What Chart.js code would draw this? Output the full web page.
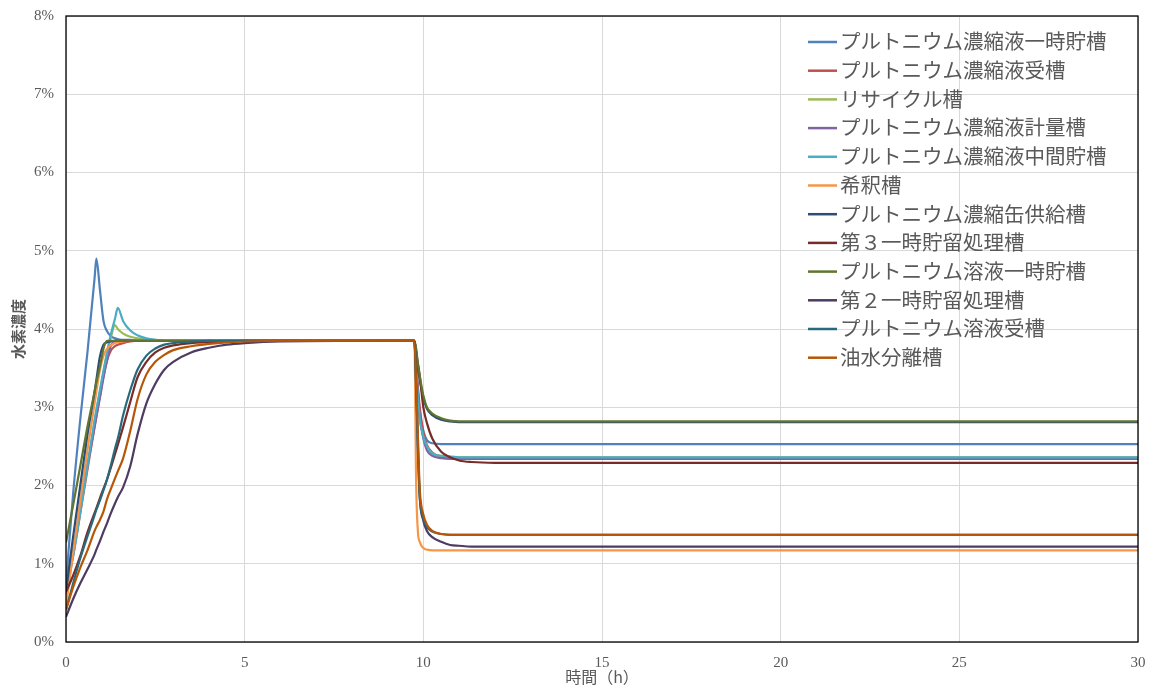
<!DOCTYPE html>
<html lang="ja">
<head>
<meta charset="utf-8">
<title>水素濃度</title>
<script src="https://cdn.jsdelivr.net/npm/chart.js@4.4.1/dist/chart.umd.min.js"></script>
<style>
    html, body { margin: 0; padding: 0; background: #ffffff; }
    #wrap { width: 1157px; height: 693px; }
</style>
</head>
<body>
<div id="wrap"><canvas id="myChart" width="1157" height="693"></canvas></div>
<script>
// time (h)
const times = [0, 0.2, 0.4, 0.6, 0.8, 0.85, 0.95, 1.05, 1.15, 1.25, 1.37, 1.45, 1.6, 1.8, 2.0, 2.25, 2.5, 2.75, 3.0, 3.5, 4.0, 4.5, 5.0, 6.0,
    9.75, 9.8, 9.85, 9.9, 10.0, 10.1, 10.25, 10.5, 10.75, 11.0, 11.35, 12.0, 30];

const tankNames = [
    'プルトニウム濃縮液一時貯槽',
    'プルトニウム濃縮液受槽',
    'リサイクル槽',
    'プルトニウム濃縮液計量槽',
    'プルトニウム濃縮液中間貯槽',
    '希釈槽',
    'プルトニウム濃縮缶供給槽',
    '第３一時貯留処理槽',
    'プルトニウム溶液一時貯槽',
    '第２一時貯留処理槽',
    'プルトニウム溶液受槽',
    '油水分離槽'
];

// hydrogen concentration (%)
const concTempStore = [0.75, 1.9, 2.85, 3.7, 4.65, 4.9, 4.5, 4.1, 3.97, 3.91, 3.88, 3.87, 3.86, 3.86, 3.85, 3.85, 3.85, 3.85, 3.85, 3.85, 3.85, 3.85, 3.85, 3.85,
    3.85, 3.5, 3.2, 2.95, 2.7, 2.58, 2.54, 2.53, 2.53, 2.53, 2.53, 2.53, 2.53];
const concReceiver = [0.6, 1.1, 1.65, 2.2, 2.75, 2.88, 3.15, 3.4, 3.6, 3.72, 3.78, 3.8, 3.82, 3.84, 3.85, 3.85, 3.85, 3.85, 3.85, 3.85, 3.85, 3.85, 3.85, 3.85,
    3.85, 3.55, 3.25, 3.0, 2.68, 2.52, 2.42, 2.37, 2.36, 2.35, 2.35, 2.35, 2.35];
const concRecycle = [0.7, 1.15, 1.7, 2.25, 2.8, 2.95, 3.2, 3.45, 3.7, 3.88, 4.05, 4.0, 3.94, 3.9, 3.88, 3.87, 3.86, 3.85, 3.85, 3.85, 3.85, 3.85, 3.85, 3.85,
    3.85, 3.45, 3.1, 2.85, 2.62, 2.5, 2.41, 2.38, 2.37, 2.36, 2.36, 2.36, 2.36];
const concMeasure = [0.7, 1.15, 1.7, 2.25, 2.75, 2.88, 3.12, 3.38, 3.6, 3.78, 3.84, 3.85, 3.85, 3.85, 3.85, 3.85, 3.85, 3.85, 3.85, 3.85, 3.85, 3.85, 3.85, 3.85,
    3.85, 3.5, 3.15, 2.9, 2.6, 2.45, 2.38, 2.35, 2.34, 2.34, 2.34, 2.34, 2.34];
const concMiddle = [0.75, 1.1, 1.65, 2.25, 2.84, 2.97, 3.22, 3.47, 3.7, 3.92, 4.13, 4.27, 4.1, 3.98, 3.92, 3.88, 3.86, 3.85, 3.85, 3.85, 3.85, 3.85, 3.85, 3.85,
    3.85, 3.45, 3.1, 2.85, 2.62, 2.5, 2.41, 2.38, 2.37, 2.36, 2.36, 2.36, 2.36];
const concDilution = [0.45, 1.15, 1.8, 2.45, 3.05, 3.2, 3.48, 3.66, 3.75, 3.79, 3.82, 3.83, 3.84, 3.85, 3.85, 3.85, 3.85, 3.85, 3.85, 3.85, 3.85, 3.85, 3.85, 3.85,
    3.85, 2.0, 1.4, 1.28, 1.2, 1.18, 1.17, 1.17, 1.17, 1.17, 1.17, 1.17, 1.17];
const concEvapFeed = [0.65, 1.35, 2.0, 2.65, 3.2, 3.35, 3.65, 3.8, 3.83, 3.84, 3.85, 3.85, 3.85, 3.85, 3.85, 3.85, 3.85, 3.85, 3.85, 3.85, 3.85, 3.85, 3.85, 3.85,
    3.85, 3.7, 3.5, 3.35, 3.12, 2.98, 2.9, 2.84, 2.82, 2.81, 2.81, 2.81, 2.81];
const concThirdHold = [0.64, 0.85, 1.1, 1.4, 1.65, 1.71, 1.84, 1.96, 2.08, 2.22, 2.4, 2.52, 2.75, 3.07, 3.38, 3.58, 3.7, 3.76, 3.79, 3.82, 3.83, 3.84, 3.85, 3.85,
    3.85, 3.7, 3.55, 3.4, 3.0, 2.8, 2.6, 2.43, 2.36, 2.32, 2.3, 2.29, 2.29];
const concSolTemp = [1.27, 1.75, 2.25, 2.75, 3.2, 3.32, 3.52, 3.75, 3.85, 3.85, 3.85, 3.85, 3.85, 3.85, 3.85, 3.85, 3.85, 3.85, 3.85, 3.85, 3.85, 3.85, 3.85, 3.85,
    3.85, 3.75, 3.55, 3.4, 3.15, 3.0, 2.92, 2.86, 2.83, 2.82, 2.82, 2.82, 2.82];
const concSecondHold = [0.32, 0.55, 0.75, 0.93, 1.12, 1.18, 1.29, 1.41, 1.52, 1.64, 1.77, 1.85, 1.98, 2.25, 2.65, 3.05, 3.3, 3.48, 3.58, 3.7, 3.76, 3.8, 3.82, 3.84,
    3.85, 3.3, 2.5, 1.85, 1.55, 1.42, 1.34, 1.28, 1.24, 1.23, 1.22, 1.22, 1.22];
const concSolReceiver = [0.41, 0.75, 1.07, 1.35, 1.62, 1.69, 1.81, 1.94, 2.08, 2.25, 2.47, 2.6, 2.9, 3.22, 3.48, 3.66, 3.75, 3.8, 3.82, 3.84, 3.85, 3.85, 3.85, 3.85,
    3.85, 3.2, 2.4, 1.85, 1.58, 1.47, 1.41, 1.38, 1.37, 1.37, 1.37, 1.37, 1.37];
const concOilWater = [0.41, 0.7, 0.95, 1.17, 1.42, 1.47, 1.56, 1.67, 1.83, 1.95, 2.09, 2.18, 2.35, 2.7, 3.1, 3.42, 3.58, 3.67, 3.73, 3.78, 3.81, 3.83, 3.84, 3.85,
    3.85, 3.3, 2.6, 1.95, 1.63, 1.5, 1.42, 1.38, 1.37, 1.37, 1.37, 1.37, 1.37];

const yTickLabels = ['0%', '1%', '2%', '3%', '4%', '5%', '6%', '7%', '8%'];
const xTickValues = [0, 5, 10, 15, 20, 25, 30];

const allSeries = [concTempStore, concReceiver, concRecycle, concMeasure, concMiddle, concDilution,
    concEvapFeed, concThirdHold, concSolTemp, concSecondHold, concSolReceiver, concOilWater];

const lineColors = ['#4f81bd', '#c0504d', '#9bbb59', '#8064a2', '#4bacc6', '#f79646',
    '#2c4d75', '#772c2a', '#5f7530', '#4d3b62', '#276a7c', '#b65708'];

const textColor = '#595959';
const serifFont = "'Liberation Serif', 'Noto Sans CJK JP', serif";

// legend drawn inside the plot, top right
const insideLegend = {
    id: 'insideLegend',
    afterDraw(chart) {
        const ctx = chart.ctx;
        ctx.save();
        ctx.font = "20.5px " + serifFont;
        ctx.textBaseline = 'middle';
        chart.data.datasets.forEach((ds, i) => {
            const y = 42 + i * 28.7;
            ctx.strokeStyle = ds.borderColor;
            ctx.lineWidth = 2.5;
            ctx.beginPath();
            ctx.moveTo(808, y);
            ctx.lineTo(837, y);
            ctx.stroke();
            ctx.fillStyle = textColor;
            ctx.fillText(ds.label, 840, y + 2);
        });
        ctx.restore();
    }
};

// black frame round the plot area
const plotFrame = {
    id: 'plotFrame',
    afterDatasetsDraw(chart) {
        const a = chart.chartArea;
        const ctx = chart.ctx;
        ctx.save();
        ctx.strokeStyle = '#000000';
        ctx.lineWidth = 1.3;
        ctx.strokeRect(a.left, a.top, a.right - a.left, a.bottom - a.top);
        ctx.restore();
    }
};

function buildDatasets() {
    return allSeries.map((values, i) => ({
        label: tankNames[i],
        data: times.map((t, k) => ({ x: t, y: values[k] })),
        borderColor: lineColors[i],
        backgroundColor: lineColors[i],
        borderWidth: 2.2,
        pointRadius: 0,
        fill: false,
        cubicInterpolationMode: 'monotone',
        order: allSeries.length - i
    }));
}

const ctx = document.getElementById('myChart').getContext('2d');
const chart = new Chart(ctx, {
    type: 'line',
    data: { datasets: buildDatasets() },
    options: {
        responsive: false,
        animation: false,
        devicePixelRatio: 1,
        layout: { padding: { left: 0, top: 16, right: 19, bottom: 0 } },
        plugins: {
            legend: { display: false },
            tooltip: { enabled: false }
        },
        scales: {
            x: {
                type: 'linear',
                min: 0,
                max: 30,
                afterFit: function(scale) {
                    scale.height = 51;
                    scale.paddingLeft = 0;
                    scale.paddingRight = 0;
                },
                afterBuildTicks: function(scale) {
                    scale.ticks = xTickValues.map(v => ({ value: v }));
                },
                grid: { color: '#d9d9d9', lineWidth: 1, drawTicks: false },
                border: { display: false },
                ticks: {
                    color: textColor,
                    padding: 12,
                    maxRotation: 0,
                    font: { family: serifFont, size: 15 }
                },
                title: {
                    display: true,
                    text: '時間（h）',
                    color: textColor,
                    padding: { top: 0, bottom: 6 },
                    font: { family: "'Noto Sans CJK JP', sans-serif", size: 16 }
                }
            },
            y: {
                min: 0,
                max: 8,
                afterFit: function(scale) {
                    scale.width = 66;
                    scale.paddingTop = 0;
                    scale.paddingBottom = 0;
                },
                grid: { color: '#d9d9d9', lineWidth: 1, drawTicks: false },
                border: { display: false },
                ticks: {
                    stepSize: 1,
                    color: textColor,
                    padding: 12,
                    font: { family: serifFont, size: 15 },
                    callback: function(value) { return yTickLabels[value]; }
                },
                title: {
                    display: true,
                    text: '水素濃度',
                    color: textColor,
                    padding: { top: 9, bottom: 0 },
                    font: { family: "'Noto Sans CJK JP', sans-serif", size: 15, weight: 'bold' }
                }
            }
        }
    },
    plugins: [plotFrame, insideLegend]
});
</script>
</body>
</html>
